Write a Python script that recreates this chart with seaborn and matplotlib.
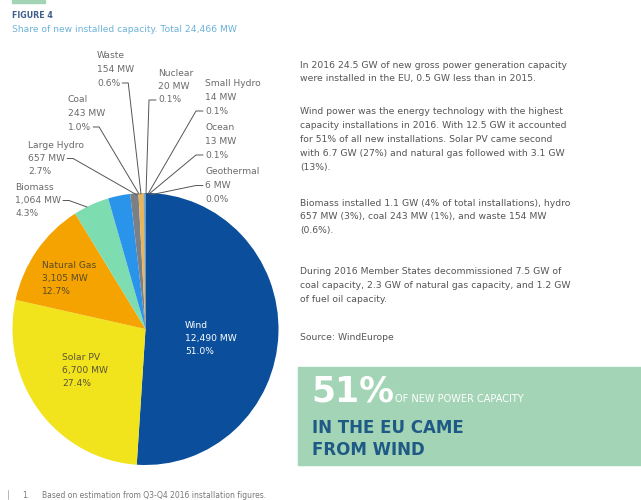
import matplotlib
matplotlib.use("Agg")
import matplotlib.pyplot as plt
import seaborn as sns
from matplotlib.lines import Line2D
from matplotlib.patches import Rectangle

# ---- data ----
sources = ["Wind", "Solar PV", "Natural Gas", "Biomass", "Large Hydro", "Coal",
           "Waste", "Nuclear", "Small Hydro", "Ocean", "Geothermal"]
capacity_mw = [12490, 6700, 3105, 1064, 657, 243, 154, 20, 14, 13, 6]
capacity_lbl = ["12,490 MW", "6,700 MW", "3,105 MW", "1,064 MW", "657 MW", "243 MW",
                "154 MW", "20 MW", "14 MW", "13 MW", "6 MW"]
share_lbl = ["51.0%", "27.4%", "12.7%", "4.3%", "2.7%", "1.0%", "0.6%",
             "0.1%", "0.1%", "0.1%", "0.0%"]
colors = ["#0b4f9c", "#f1e31c", "#f4a300", "#7ddcb0", "#2a94ea", "#7b7f86",
          "#e8b55c", "#5b7fa8", "#3aa0c8", "#1f6fb0", "#9bb7d4"]

paragraphs = [
    ["In 2016 24.5 GW of new gross power generation capacity",
     "were installed in the EU, 0.5 GW less than in 2015."],
    ["Wind power was the energy technology with the highest",
     "capacity installations in 2016. With 12.5 GW it accounted",
     "for 51% of all new installations. Solar PV came second",
     "with 6.7 GW (27%) and natural gas followed with 3.1 GW",
     "(13%)."],
    ["Biomass installed 1.1 GW (4% of total installations), hydro",
     "657 MW (3%), coal 243 MW (1%), and waste 154 MW",
     "(0.6%)."],
    ["During 2016 Member States decommissioned 7.5 GW of",
     "coal capacity, 2.3 GW of natural gas capacity, and 1.2 GW",
     "of fuel oil capacity."],
    ["Source: WindEurope"],
]
para_top = [65, 111, 203, 272, 337]

W, H = 641, 500
sns.set_theme(style="white")
plt.rcParams["font.family"] = ["DejaVu Sans"]

fig = plt.figure(figsize=(W / 100, H / 100), dpi=100)
fig.patch.set_facecolor("white")


def fx(x):
    return x / W


def fy(y):
    return 1 - y / H


# ---- pie ----
cx, cy, rx, ry = 145.5, 329, 133, 136
ax = fig.add_axes([fx(cx - rx), fy(cy + ry), 2 * rx / W, 2 * ry / H])
wedges, _ = ax.pie(capacity_mw, colors=colors, startangle=90, counterclock=False,
                   wedgeprops=dict(linewidth=0))
ax.set_xlim(-1, 1)
ax.set_ylim(-1, 1)
ax.set_aspect("auto")
ax.axis("off")

lab_grey = "#6a6a6a"
fs = 6.6
ls = 13.5


def block(x, y, lines, color, **kw):
    out = []
    for i, t in enumerate(lines):
        out.append(fig.text(fx(x), fy(y + i * ls), t, color=color, fontsize=fs,
                            va="center", ha="left", **kw))
    return out


def lbl(i):
    return [sources[i], capacity_lbl[i], share_lbl[i]]


# inside labels
block(185, 325, lbl(0), "white")
block(62, 357, lbl(1), "#5a5535")
block(42, 265, lbl(2), "#5a4a2a")

# outside labels: (text x, top line y, leader line index, side, pie anchor)
outside = {
    6: (97, 56, 2, "right", (141, 194)),
    5: (68, 100, 2, "right", (139, 194)),
    4: (28, 145, 1, "right", (137, 195)),
    3: (15, 187, 1, "right", (87, 207)),
    7: (158, 73, 2, "left", (146, 194)),
    8: (205, 84, 2, "left", (148, 194)),
    9: (205, 128, 2, "left", (149, 194)),
    10: (205, 172, 1, "left", (150, 195)),
}
renderer = fig.canvas.get_renderer()
for i, (tx, ty, li, side, anchor) in outside.items():
    texts = block(tx, ty, lbl(i), lab_grey)
    bb = texts[li].get_window_extent(renderer)
    yline = ty + li * ls
    if side == "right":
        x0 = bb.x1 + 2
        x1 = x0 + 6
    else:
        x0 = bb.x0 - 2
        x1 = x0 - 7
    pts = [(x0, yline), (x1, yline), anchor]
    fig.add_artist(Line2D([fx(p[0]) for p in pts], [fy(p[1]) for p in pts],
                          color="#555555", lw=0.7))

# ---- header ----
fig.add_artist(Rectangle((fx(12), fy(3)), (45 - 12) / W, 3 / H, color="#a3d4b5",
                         transform=fig.transFigure))
fig.text(fx(12), fy(16), "FIGURE 4", fontsize=5.7, fontweight="bold",
         color="#3d5f8a", va="center")
fig.text(fx(12), fy(29), "Share of new installed capacity. Total 24,466 MW",
         fontsize=6.6, color="#6cb2d8", va="center")

# ---- right text ----
for top, para in zip(para_top, paragraphs):
    for k, line in enumerate(para):
        fig.text(fx(300), fy(top + k * 14), line, fontsize=6.7, color="#555555",
                 va="center")

# ---- green box ----
fig.add_artist(Rectangle((fx(298), fy(465)), (W - 298) / W, (465 - 367) / H,
                         color="#a3d4b5", transform=fig.transFigure, zorder=0))
fig.text(fx(311), fy(402), "51%", fontsize=25, fontweight="bold", color="white",
         va="baseline")
fig.text(fx(395), fy(402), "OF NEW POWER CAPACITY", fontsize=7, color="white",
         va="baseline")
fig.text(fx(312), fy(428), "IN THE EU CAME", fontsize=12, fontweight="bold",
         color="#1f5a86", va="center")
fig.text(fx(312), fy(450), "FROM WIND", fontsize=12, fontweight="bold",
         color="#1f5a86", va="center")

# ---- footnote ----
fig.add_artist(Line2D([fx(8), fx(8)], [fy(490), fy(499)], color="#aaaaaa", lw=0.6))
fig.text(fx(22), fy(495), "1.", fontsize=5.5, color="#777777", va="center")
fig.text(fx(42), fy(495), "Based on estimation from Q3-Q4 2016 installation figures.",
         fontsize=5.5, color="#777777", va="center")

fig.savefig("out.png", dpi=100, facecolor="white")
